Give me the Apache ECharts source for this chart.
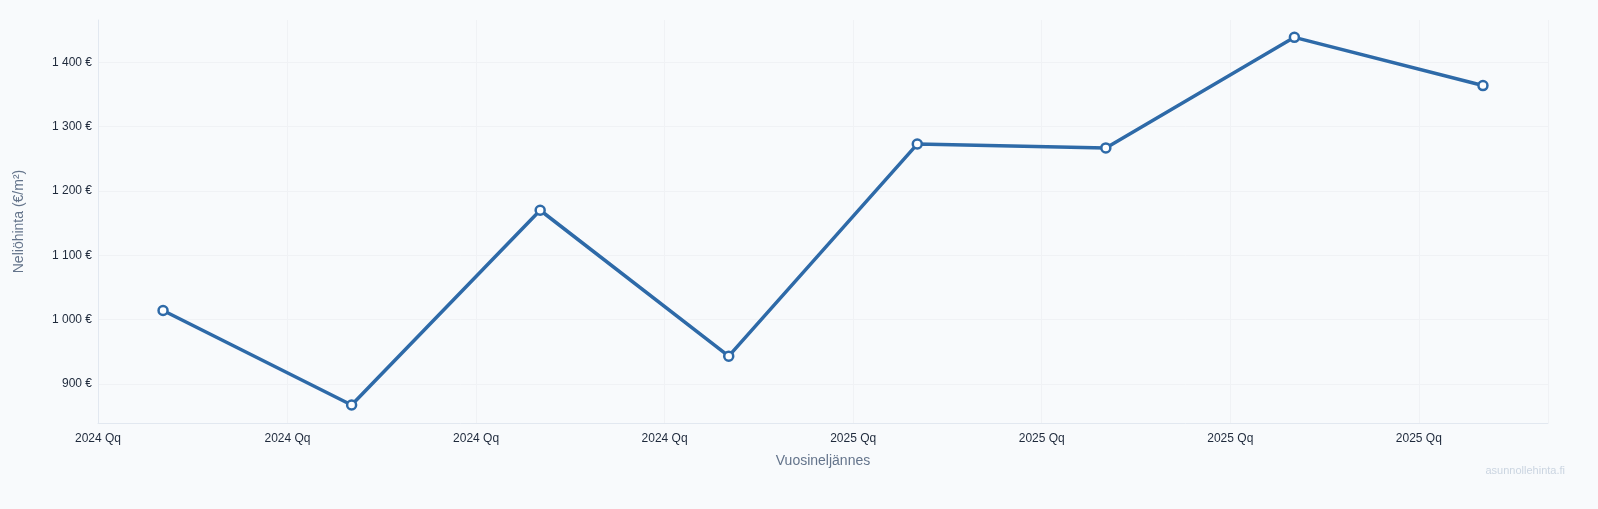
<!DOCTYPE html>
<html>
<head>
<meta charset="utf-8">
<script src="https://cdn.jsdelivr.net/npm/echarts@6/dist/echarts.min.js"></script>
<style>html,body{margin:0;background:#f8fafc}#chart{width:1598px;height:509px}</style>
</head>
<body>
<div id="chart"></div>
<script>
// neliöhinnat vuosineljänneksittäin
var quarters = [0, 1, 2, 3, 4, 5, 6, 7];
var prices = [1014, 867, 1170, 943, 1273, 1267, 1439, 1364];
var xTickLabels = ['2024 Qq', '2024 Qq', '2024 Qq', '2024 Qq', '2025 Qq', '2025 Qq', '2025 Qq', '2025 Qq'];
var yTicks = [900, 1000, 1100, 1200, 1300, 1400];

var chart = echarts.init(document.getElementById('chart'));
var fmt = function (v) { return String(v).replace(/\B(?=(\d{3})+(?!\d))/g, ' ') + ' €'; };
chart.setOption({
    backgroundColor: '#f8fafc',
    animation: false,
    textStyle: {fontFamily: 'Liberation Sans, Arial, sans-serif'},
    grid: {left: 98, right: 50, top: 20, bottom: 86},
    graphic: [{
        type: 'text', right: 33, top: 465,
        style: {text: 'asunnollehinta.fi', fill: '#cbd5e1', fontSize: 11, fontFamily: 'Liberation Sans, Arial'}
    }],
    xAxis: {
        type: 'value', min: -0.345, max: 7.345, interval: 1,
        name: 'Vuosineljännes', nameLocation: 'middle', nameGap: 31,
        nameTextStyle: {color: '#64748b', fontSize: 14},
        axisLine: {onZero: false, lineStyle: {color: '#e2e8f0'}},
        axisTick: {show: false},
        axisLabel: {
            color: '#1e293b', fontSize: 12, margin: 10, showMaxLabel: false,
            formatter: function (v) {
                var i = Math.round(v + 0.345);
                return xTickLabels[i] || '';
            }
        },
        splitLine: {show: true, lineStyle: {color: '#f0f2f5'}}
    },
    yAxis: {
        type: 'value', min: 839, max: 1466,
        name: 'Neliöhinta (€/m²)', nameLocation: 'middle', nameGap: 72, nameRotate: 90,
        nameTextStyle: {color: '#64748b', fontSize: 14},
        axisLine: {show: true, onZero: false, lineStyle: {color: '#e2e8f0'}},
        axisTick: {show: false, customValues: yTicks},
        axisLabel: {
            color: '#1e293b', fontSize: 12, margin: 6,
            customValues: yTicks, formatter: fmt
        },
        splitLine: {show: true, lineStyle: {color: '#f0f2f5'}}
    },
    series: [{
        type: 'line',
        data: quarters.map(function (q, i) { return [q, prices[i]]; }),
        lineStyle: {color: '#2e6aa8', width: 3.5},
        itemStyle: {color: '#ffffff', borderColor: '#2e6aa8', borderWidth: 2.5},
        symbol: 'circle', symbolSize: 9
    }]
});
</script>
</body>
</html>
